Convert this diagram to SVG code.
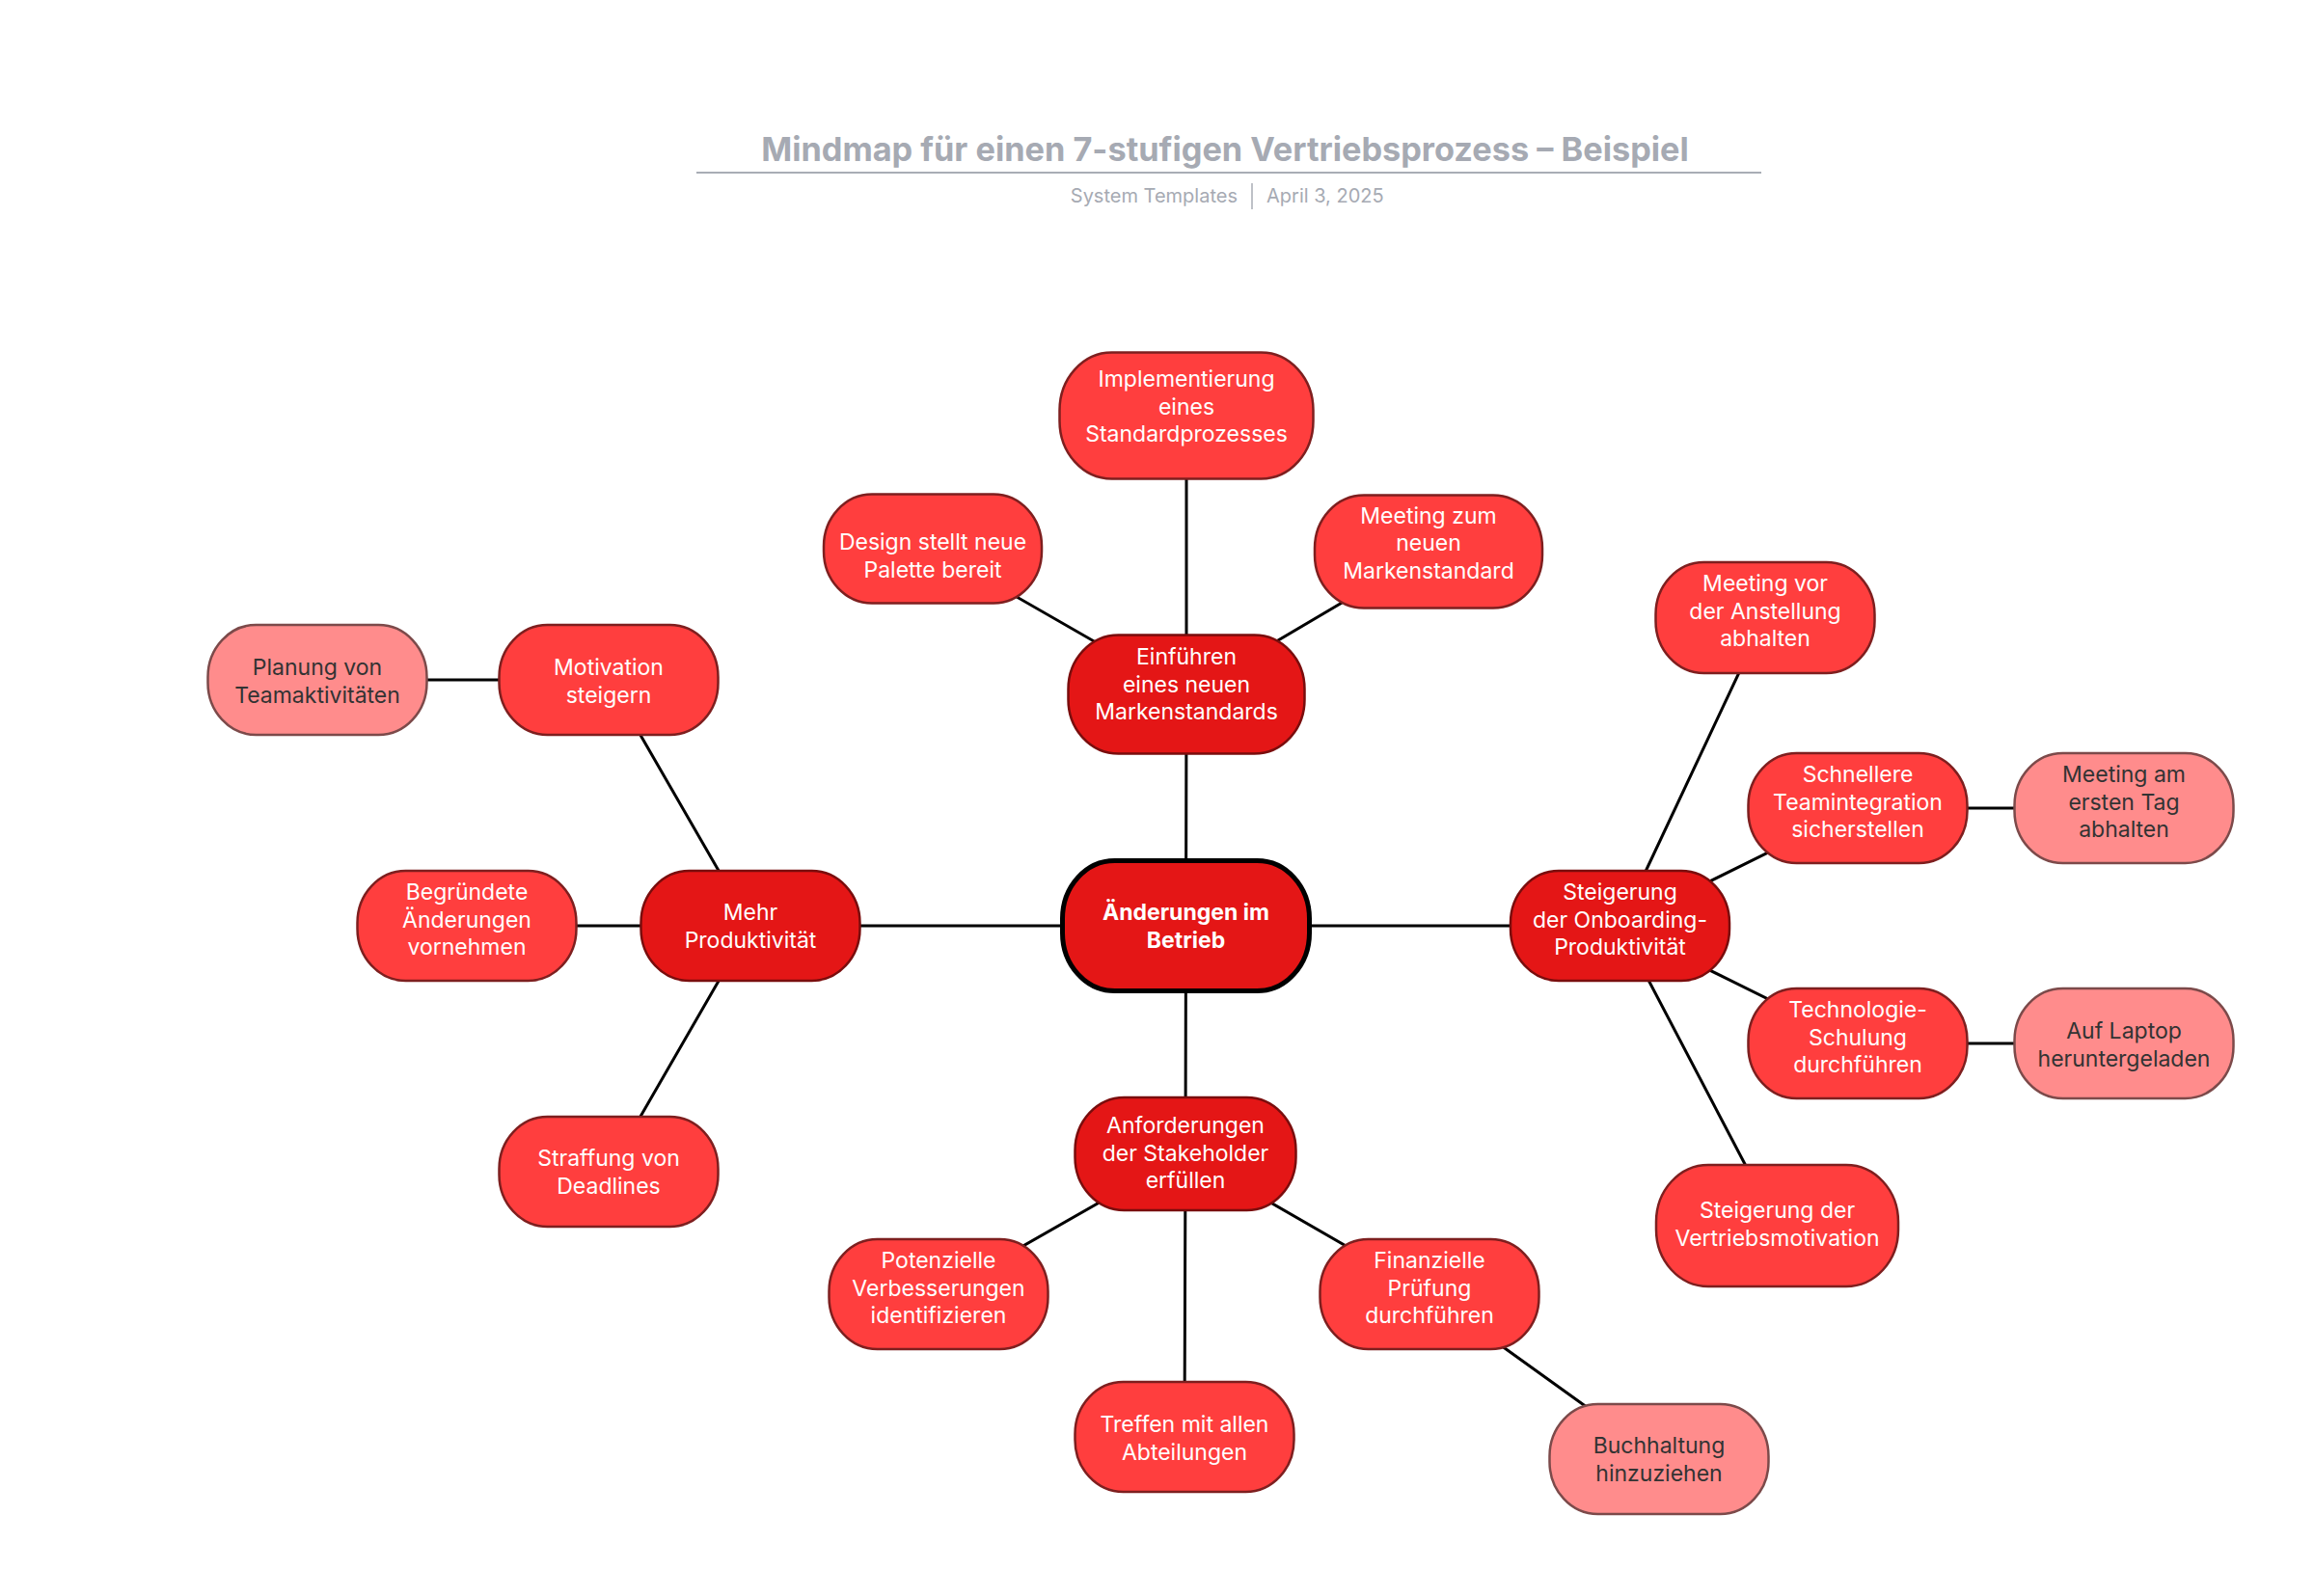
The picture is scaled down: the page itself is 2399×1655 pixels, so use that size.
<svg xmlns="http://www.w3.org/2000/svg" width="2399" height="1655" viewBox="0 0 2399 1655">
<style>
.bg{fill:#ffffff}
.title{font-family:Inter,"Liberation Sans",sans-serif;font-weight:700;font-size:34.3px;fill:#a6aab3}
.sub{font-family:Inter,"Liberation Sans",sans-serif;font-size:20px;fill:#a6aab3}
.conn line{stroke:#000;stroke-width:3;stroke-linecap:round}
.n0 rect{fill:#e41616;stroke:#000;stroke-width:5}
.n1 rect{fill:#e41616;stroke:#7a0d0d;stroke-width:2.5}
.n2 rect{fill:#ff3e3e;stroke:#7e1f1f;stroke-width:2.5}
.n3 rect{fill:#ff8c8c;stroke:#7c4a4a;stroke-width:2.5}
text.t{font-family:Inter,"Liberation Sans",sans-serif;font-size:23px;fill:#ffffff;text-anchor:middle}
.n0 text.t{font-weight:700}
.n3 text.t{fill:#333333}
</style>
<rect class="bg" x="0" y="0" width="2399" height="1655"/>
<g id="header">
<text class="title" x="1270" y="167" text-anchor="middle">Mindmap für einen 7-stufigen Vertriebsprozess – Beispiel</text>
<line x1="722" y1="179" x2="1826" y2="179" stroke="#a9adb5" stroke-width="2"/>
<text class="sub" x="1283" y="210" text-anchor="end">System Templates</text>
<line x1="1298" y1="190" x2="1298" y2="217" stroke="#a9adb5" stroke-width="1.5"/>
<text class="sub" x="1313" y="210">April 3, 2025</text>
</g>
<g id="connectors" class="conn">
<line x1="1229.5" y1="960" x2="1230" y2="720"/>
<line x1="1229.5" y1="960" x2="778" y2="960"/>
<line x1="1229.5" y1="960" x2="1679.5" y2="960"/>
<line x1="1229.5" y1="960" x2="1229" y2="1196"/>
<line x1="1230" y1="720" x2="1230" y2="431"/>
<line x1="1230" y1="720" x2="967" y2="569"/>
<line x1="1230" y1="720" x2="1481" y2="572"/>
<line x1="778" y1="960" x2="631" y2="705"/>
<line x1="778" y1="960" x2="484" y2="960"/>
<line x1="778" y1="960" x2="631" y2="1215"/>
<line x1="631" y1="705" x2="329" y2="705"/>
<line x1="1679.5" y1="960" x2="1830" y2="640"/>
<line x1="1679.5" y1="960" x2="1926" y2="838"/>
<line x1="1679.5" y1="960" x2="1926" y2="1082"/>
<line x1="1679.5" y1="960" x2="1842.5" y2="1271"/>
<line x1="1926" y1="838" x2="2202" y2="838"/>
<line x1="1926" y1="1082" x2="2202" y2="1082"/>
<line x1="1229" y1="1196" x2="973" y2="1342"/>
<line x1="1229" y1="1196" x2="1228" y2="1490"/>
<line x1="1229" y1="1196" x2="1482" y2="1342"/>
<line x1="1482" y1="1342" x2="1720" y2="1513"/>
</g>
<g id="node-center" class="n0">
<rect x="1101.5" y="892.5" width="256" height="135" rx="54" ry="60"/>
<text class="t"><tspan x="1229.5" y="954">Änderungen im</tspan><tspan x="1229.5" y="982.5">Betrieb</tspan></text>
</g>
<g id="node-einfuehren" class="n1">
<rect x="1107.5" y="658.5" width="245" height="123" rx="52" ry="56"/>
<text class="t"><tspan x="1230" y="689">Einführen</tspan><tspan x="1230" y="717.5">eines neuen</tspan><tspan x="1230" y="746">Markenstandards</tspan></text>
</g>
<g id="node-implementierung" class="n2">
<rect x="1098.5" y="365.5" width="263" height="131" rx="54" ry="60"/>
<text class="t"><tspan x="1230" y="401">Implementierung</tspan><tspan x="1230" y="429.5">eines</tspan><tspan x="1230" y="458">Standardprozesses</tspan></text>
</g>
<g id="node-design" class="n2">
<rect x="854" y="512.5" width="226" height="113" rx="50" ry="54"/>
<text class="t"><tspan x="967" y="570">Design stellt neue</tspan><tspan x="967" y="598.5">Palette bereit</tspan></text>
</g>
<g id="node-meeting-zum" class="n2">
<rect x="1363" y="513.5" width="236" height="117" rx="51" ry="55"/>
<text class="t"><tspan x="1481" y="542.5">Meeting zum</tspan><tspan x="1481" y="571">neuen</tspan><tspan x="1481" y="599.5">Markenstandard</tspan></text>
</g>
<g id="node-mehr" class="n1">
<rect x="664.5" y="903" width="227" height="114" rx="50" ry="54"/>
<text class="t"><tspan x="778" y="954">Mehr</tspan><tspan x="778" y="982.5">Produktivität</tspan></text>
</g>
<g id="node-motivation" class="n2">
<rect x="517.5" y="648" width="227" height="114" rx="50" ry="54"/>
<text class="t"><tspan x="631" y="700">Motivation</tspan><tspan x="631" y="728.5">steigern</tspan></text>
</g>
<g id="node-planung" class="n3">
<rect x="215.5" y="648" width="227" height="114" rx="50" ry="54"/>
<text class="t"><tspan x="329" y="700">Planung von</tspan><tspan x="329" y="728.5">Teamaktivitäten</tspan></text>
</g>
<g id="node-begruendete" class="n2">
<rect x="370.5" y="903" width="227" height="114" rx="50" ry="54"/>
<text class="t"><tspan x="484" y="933">Begründete</tspan><tspan x="484" y="961.5">Änderungen</tspan><tspan x="484" y="990">vornehmen</tspan></text>
</g>
<g id="node-straffung" class="n2">
<rect x="517.5" y="1158" width="227" height="114" rx="50" ry="54"/>
<text class="t"><tspan x="631" y="1209">Straffung von</tspan><tspan x="631" y="1237.5">Deadlines</tspan></text>
</g>
<g id="node-onboarding" class="n1">
<rect x="1566" y="903" width="227" height="114" rx="50" ry="54"/>
<text class="t"><tspan x="1679.5" y="933">Steigerung</tspan><tspan x="1679.5" y="961.5">der Onboarding-</tspan><tspan x="1679.5" y="990">Produktivität</tspan></text>
</g>
<g id="node-meeting-vor" class="n2">
<rect x="1716.5" y="583" width="227" height="115" rx="50" ry="54"/>
<text class="t"><tspan x="1830" y="613">Meeting vor</tspan><tspan x="1830" y="641.5">der Anstellung</tspan><tspan x="1830" y="670">abhalten</tspan></text>
</g>
<g id="node-schnellere" class="n2">
<rect x="1812.5" y="781" width="227" height="114" rx="50" ry="54"/>
<text class="t"><tspan x="1926" y="811">Schnellere</tspan><tspan x="1926" y="839.5">Teamintegration</tspan><tspan x="1926" y="868">sicherstellen</tspan></text>
</g>
<g id="node-meeting-am" class="n3">
<rect x="2088.5" y="781" width="227" height="114" rx="50" ry="54"/>
<text class="t"><tspan x="2202" y="811">Meeting am</tspan><tspan x="2202" y="839.5">ersten Tag</tspan><tspan x="2202" y="868">abhalten</tspan></text>
</g>
<g id="node-technologie" class="n2">
<rect x="1812.5" y="1025" width="227" height="114" rx="50" ry="54"/>
<text class="t"><tspan x="1926" y="1055">Technologie-</tspan><tspan x="1926" y="1083.5">Schulung</tspan><tspan x="1926" y="1112">durchführen</tspan></text>
</g>
<g id="node-laptop" class="n3">
<rect x="2088.5" y="1025" width="227" height="114" rx="50" ry="54"/>
<text class="t"><tspan x="2202" y="1077">Auf Laptop</tspan><tspan x="2202" y="1105.5">heruntergeladen</tspan></text>
</g>
<g id="node-vertriebsmotivation" class="n2">
<rect x="1717" y="1208" width="251" height="126" rx="54" ry="59"/>
<text class="t"><tspan x="1842.5" y="1263">Steigerung der</tspan><tspan x="1842.5" y="1291.5">Vertriebsmotivation</tspan></text>
</g>
<g id="node-anforderungen" class="n1">
<rect x="1114.5" y="1138" width="229" height="117" rx="51" ry="55"/>
<text class="t"><tspan x="1229" y="1175">Anforderungen</tspan><tspan x="1229" y="1203.5">der Stakeholder</tspan><tspan x="1229" y="1232">erfüllen</tspan></text>
</g>
<g id="node-potenzielle" class="n2">
<rect x="859.5" y="1285" width="227" height="114" rx="50" ry="54"/>
<text class="t"><tspan x="973" y="1315">Potenzielle</tspan><tspan x="973" y="1343.5">Verbesserungen</tspan><tspan x="973" y="1372">identifizieren</tspan></text>
</g>
<g id="node-treffen" class="n2">
<rect x="1114.5" y="1433" width="227" height="114" rx="50" ry="54"/>
<text class="t"><tspan x="1228" y="1485">Treffen mit allen</tspan><tspan x="1228" y="1513.5">Abteilungen</tspan></text>
</g>
<g id="node-finanzielle" class="n2">
<rect x="1368.5" y="1285" width="227" height="114" rx="50" ry="54"/>
<text class="t"><tspan x="1482" y="1315">Finanzielle</tspan><tspan x="1482" y="1343.5">Prüfung</tspan><tspan x="1482" y="1372">durchführen</tspan></text>
</g>
<g id="node-buchhaltung" class="n3">
<rect x="1606.5" y="1456" width="227" height="114" rx="50" ry="54"/>
<text class="t"><tspan x="1720" y="1507">Buchhaltung</tspan><tspan x="1720" y="1535.5">hinzuziehen</tspan></text>
</g>
</svg>
